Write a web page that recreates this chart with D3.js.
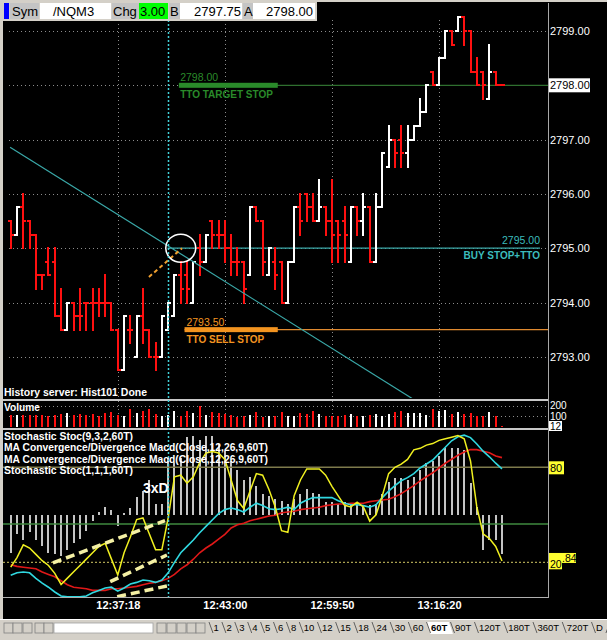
<!DOCTYPE html>
<html><head><meta charset="utf-8">
<script src="https://cdn.jsdelivr.net/npm/d3@7"></script>
<style>body{margin:0;background:#000;}svg{display:block;}</style>
</head><body><svg id="chart" width="607" height="640"></svg>
<script>
// ---------------- DATA ----------------
const opens = [2795.5,2795.25,2795.75,2795.5,2795.25,2794.5,2794.75,2794.75,2793.75,2793.5,
2794.0,2793.75,2794.0,2794.0,2794.0,2794.0,2794.0,2793.5,2792.75,2793.5,
2793.0,2793.75,2793.5,2793.0,2793.0,2793.5,2793.75,2794.5,2794.5,2794.0,
2795.0,2794.75,2795.5,2795.25,2795.25,2795.0,2794.75,2794.75,2794.5,2795.75,
2795.5,2794.5,2794.75,2794.75,2794.0,2794.75,2795.75,2796.0,2795.75,2795.5,
2795.75,2795.5,2795.5,2795.5,2794.75,2795.75,2795.5,2795.75,2794.75,2795.75,
2796.5,2797.0,2797.0,2796.75,2797.0,2797.25,2797.5,2798.25,2798.0,2798.5,
2799.0,2799.0,2799.25,2799.0,2798.25,2798.25,2797.75,2798.25,2798.0];
const highs = [2795.5,2795.75,2796.0,2795.5,2795.25,2794.5,2795.0,2795.0,2794.25,2794.0,
2794.0,2794.25,2794.0,2794.25,2794.25,2794.5,2794.0,2793.5,2793.75,2793.75,
2793.75,2794.25,2793.5,2793.25,2793.75,2794.0,2794.5,2794.75,2794.75,2794.75,
2795.25,2795.25,2795.5,2795.5,2795.5,2795.25,2795.0,2794.75,2795.75,2795.75,
2795.5,2795.0,2795.0,2794.75,2794.75,2795.75,2796.0,2796.0,2796.0,2796.25,
2795.75,2796.25,2795.5,2795.75,2795.75,2795.75,2796.0,2795.75,2796.0,2796.75,
2797.25,2797.0,2797.25,2797.25,2797.25,2797.75,2798.0,2798.25,2798.5,2799.0,
2799.0,2799.25,2799.25,2799.0,2798.5,2798.25,2798.75,2798.25,2798.0];
const lows = [2795.0,2795.25,2795.0,2795.0,2794.25,2794.25,2794.5,2793.75,2793.5,2793.5,
2793.5,2793.5,2793.5,2793.5,2793.75,2793.75,2793.5,2792.75,2792.75,2793.25,
2793.0,2793.25,2793.0,2792.75,2793.0,2793.5,2793.75,2794.0,2794.0,2794.0,
2794.5,2794.75,2795.0,2795.0,2794.75,2794.5,2794.5,2794.0,2794.5,2795.5,
2794.5,2794.5,2794.25,2794.0,2794.0,2794.75,2795.25,2795.5,2795.5,2795.5,
2795.25,2794.75,2794.75,2794.75,2794.75,2795.25,2795.25,2794.75,2794.75,2795.75,
2796.5,2796.5,2796.5,2796.5,2797.0,2797.25,2797.5,2798.0,2798.0,2798.5,
2798.75,2799.0,2798.75,2798.25,2798.0,2797.75,2797.75,2798.0,2798.0];
const closes = [2795.25,2795.75,2795.5,2795.25,2794.5,2794.5,2794.5,2793.75,2793.5,2794.0,
2793.75,2793.75,2794.0,2794.0,2794.0,2794.0,2793.5,2792.75,2793.75,2793.5,
2793.75,2793.5,2793.0,2793.0,2793.75,2794.0,2794.5,2794.25,2794.25,2794.75,
2794.75,2795.25,2795.25,2795.25,2795.0,2794.75,2794.75,2794.25,2795.75,2795.5,
2794.75,2795.0,2794.5,2794.0,2794.75,2795.75,2795.5,2795.75,2795.5,2795.75,
2795.5,2795.25,2795.25,2795.25,2795.75,2795.5,2795.75,2794.75,2795.75,2796.75,
2797.0,2796.75,2796.75,2797.0,2797.25,2797.5,2798.0,2798.0,2798.5,2799.0,
2798.75,2799.25,2799.0,2798.25,2798.0,2798.0,2798.25,2798.0,2798.0];
const volumes = [115,115,115,115,115,115,103,115,124,133,115,124,115,124,103,133,139,115,103,164,
133,148,167,124,103,115,148,103,148,130,191,115,139,130,124,115,94,100,115,139,
94,103,103,136,103,103,133,124,145,118,100,100,100,115,118,103,100,109,118,100,
124,139,148,133,133,133,109,170,148,155,118,139,124,133,100,100,139,100,12];
// Stochastic Stoc(9,3,2,60T) drawn as histogram about 50
const stochSlow = [26,38,34,39,34,30,26,25,24,28,32,35,40,46,52,55,53,43,51,54,61,65,72,57,57,
86,83,86,99,100,97,100,100,95,90,84,78,72,74,68,63,62,60,59,57,60,
63,66,64,63,58,58,57,58,57,56,55,56,57,63,71,73,73,72,74,78,83,84,87,92,92,92,91,70,55,28,34,34,25];
// Stochastic Stoc(1,1,1,60T)
const stochFast = [17,23,31,29,25,21,18,13,6,10,14,18,22,26,30,32,22,12,26,36,47,48,38,28,28,
48,74,75,70,74,83,89,90,89,85,72,59,54,65,76,75,66,55,40,39,62,
72,79,79,79,75,68,62,56,55,58,55,46,50,62,76,80,82,85,91,92,94,95,97,98,99,100,98,84,55,38,35,30,20.84];
// MACD(12,26,9) line and signal
const macdLine = [-0.64,-0.61,-0.60,-0.61,-0.68,-0.74,-0.79,-0.85,-0.90,-0.91,-0.91,-0.91,-0.90,-0.86,-0.83,-0.80,-0.79,-0.84,-0.80,-0.75,-0.73,-0.70,-0.71,-0.73,-0.70,
-0.61,-0.48,-0.36,-0.28,-0.20,-0.11,-0.03,0.05,0.13,0.18,0.20,0.18,0.15,0.21,0.26,0.23,0.19,0.18,0.19,0.21,0.18,
0.26,0.30,0.33,0.33,0.33,0.33,0.29,0.26,0.24,0.24,0.23,0.21,0.24,0.33,0.41,0.48,0.54,0.58,0.63,0.70,0.75,0.80,0.88,0.96,1.04,1.09,1.11,1.08,1.00,0.91,0.84,0.76,0.69];
const signalLine = [-0.51,-0.53,-0.54,-0.55,-0.56,-0.60,-0.63,-0.66,-0.71,-0.76,-0.79,-0.80,-0.81,-0.83,-0.83,-0.83,-0.81,-0.81,-0.80,-0.79,-0.78,-0.76,-0.74,-0.73,-0.71,
-0.68,-0.63,-0.56,-0.51,-0.44,-0.36,-0.30,-0.25,-0.19,-0.13,-0.05,-0.01,0.01,0.04,0.06,0.08,0.10,0.11,0.14,0.15,0.16,
0.18,0.19,0.20,0.21,0.23,0.24,0.25,0.25,0.26,0.26,0.26,0.28,0.29,0.30,0.31,0.34,0.38,0.43,0.48,0.54,0.59,0.64,0.70,0.76,0.81,0.86,0.90,0.93,0.93,0.91,0.89,0.85,0.83];

const priceTicks = [2793,2794,2795,2796,2797,2798,2799];
const lastPrice = 2798;
const timeTickIndex = [17,34,51,68];
const timeTickLabels = ["12:37:18","12:43:00","12:59:50","13:16:20"];
const volTicks = [100,200];
const lastVolume = 12;
const stochLevels = [20,80];
const lastStoch = 20.84;

const orderPrices = [2798.00, 2795.00, 2793.50];
const orderNames = ["TTO TARGET STOP","BUY STOP+TTO","TTO SELL STOP"];

const headerLabels = ["Sym","Chg","B","A"];
const headerValues = ["/NQM3","3.00","2797.75","2798.00"];

const indicatorNames = ["Stochastic Stoc(9,3,2,60T)","MA Convergence/Divergence Macd(Close,12,26,9,60T)",
  "MA Convergence/Divergence Macd(Close,12,26,9,60T)","Stochastic Stoc(1,1,1,60T)"];
const tabLabels = ["1","2","3","4","5","6","8","10","12","15","18","24","30","60","60T","90T","120T","180T","360T","720T","D"];
const selectedTab = "60T";

// drawn annotations: [barIndex, value]
const trendLine = [[-0.1,2796.86],[63.9,2792.22]];
const arrowLine = [[21.95,2794.47],[27.2,2795.0]];
const circleAt = [27,2795.0];
const cursorIndex = 25;
const divergenceLines = [ [[6.7,19.6],[24.5,46.3]], [[15.8,7.8],[24.8,24.6]], [[16.9,-1.7],[24.8,5.0]] ];
const divergenceText = "3xD";
const statusText = "History server: Hist101 Done";

// ---------------- DRAW ----------------
const FONT = "'Liberation Sans', Arial, sans-serif";
const W = 607, H = 640, L = 3, R = 548;
const svg = d3.select("#chart").attr("font-family", FONT);
svg.append("rect").attr("width", W).attr("height", H).attr("fill", "#000");

const defs = svg.append("defs");
defs.append("clipPath").attr("id","clipMain").append("rect").attr("x",L).attr("y",19).attr("width",R-L).attr("height",379);
defs.append("clipPath").attr("id","clipOsc").append("rect").attr("x",L).attr("y",430).attr("width",R-L).attr("height",167);

const x = d3.scaleLinear().domain([0, 78]).range([10.7, 502]);
const yP = d3.scaleLinear().domain([2793, 2799]).range([356.8, 31]);
const yV = d3.scaleLinear().domain([0, 200]).range([427, 405.5]);
const yS = d3.scaleLinear().domain([20, 80]).range([562.3, 467.3]);
const yM = d3.scaleLinear().domain([0, 1]).range([524, 444]);
const px = i => Math.round(x(i));

// frame pieces
svg.append("rect").attr("x",0).attr("y",0).attr("width",W).attr("height",2).attr("fill","#d4d0c8");
svg.append("rect").attr("x",0).attr("y",0).attr("width",L).attr("height",620).attr("fill","#d4d0c8");

// grid
const grid = svg.append("g").attr("stroke","#8c8c8c").attr("stroke-dasharray","1,3").attr("shape-rendering","crispEdges");
grid.selectAll(".gh").data(priceTicks).join("line")
  .attr("x1", L+6).attr("x2", R).attr("y1", d=>Math.round(yP(d))+0.5).attr("y2", d=>Math.round(yP(d))+0.5);
grid.selectAll(".gv").data(timeTickIndex).join("line")
  .attr("x1", d=>px(d)+0.5).attr("x2", d=>px(d)+0.5).attr("y1", 20).attr("y2", 398);
grid.selectAll(".gvv").data(timeTickIndex).join("line")
  .attr("x1", d=>px(d)+0.5).attr("x2", d=>px(d)+0.5).attr("y1", 401).attr("y2", 427);
grid.selectAll(".gvol").data(volTicks).join("line")
  .attr("x1", L+6).attr("x2", R).attr("y1", d=>Math.round(yV(d))+0.5).attr("y2", d=>Math.round(yV(d))+0.5);

// order lines
const orderStyle = [
  {col:"#2a8a2a", thin:"#2f6f2f", from:26.7, thickTo:42.4, to:R, align:"start", lx:26.9},
  {col:"#3cbcbc", thin:"#3aa8a8", from:24.9, thickTo:null, to:540, align:"end", lx:null},
  {col:"#f39420", thin:"#e08a30", from:27.6, thickTo:42.4, to:R, align:"start", lx:27.9}
];
const gO = svg.append("g");
orderPrices.forEach((p,k)=>{
  const s = orderStyle[k], yy = yP(p);
  gO.append("line").attr("x1", x(s.from)).attr("x2", s.to).attr("y1", yy).attr("y2", yy)
    .attr("stroke", s.thin).attr("stroke-width", 1.2);
  if (s.thickTo !== null) {
    gO.append("rect").attr("x", x(s.from)).attr("y", yy-2.5).attr("width", x(s.thickTo)-x(s.from)).attr("height", 5).attr("fill", s.col);
  }
  const tx = s.align === "start" ? x(s.lx) : 540;
  gO.append("text").attr("x", tx).attr("y", yy-4).attr("text-anchor", s.align).attr("fill", s.col)
    .attr("font-size", 10.5).text(d3.format(".2f")(p));
  gO.append("text").attr("x", tx).attr("y", yy+(k===1?11:13)).attr("text-anchor", s.align).attr("fill", s.col)
    .attr("font-size", 10).attr("font-weight","bold").text(orderNames[k]);
});

// OHLC bars
const bars = d3.range(opens.length).map(i=>({i, o:opens[i], h:highs[i], l:lows[i], c:closes[i], v:volumes[i]}));
const col = d => d.c > d.o ? "#ffffff" : "#ff1010";
const gB = svg.append("g").attr("shape-rendering","crispEdges").attr("stroke-width",2);
gB.selectAll(".hl").data(bars).join("line")
  .attr("x1", d=>px(d.i)).attr("x2", d=>px(d.i))
  .attr("y1", d=>Math.round(yP(d.h))-1).attr("y2", d=>Math.round(yP(d.l))+1).attr("stroke", col);
gB.selectAll(".op").data(bars).join("line")
  .attr("x1", d=>px(d.i)-3).attr("x2", d=>px(d.i))
  .attr("y1", d=>Math.round(yP(d.o))).attr("y2", d=>Math.round(yP(d.o))).attr("stroke", col);
gB.selectAll(".cl").data(bars).join("line")
  .attr("x1", d=>px(d.i)).attr("x2", d=>px(d.i)+3)
  .attr("y1", d=>Math.round(yP(d.c))).attr("y2", d=>Math.round(yP(d.c))).attr("stroke", col);

// trendline, arrow, circle
const gA = svg.append("g").attr("clip-path","url(#clipMain)");
gA.append("line").attr("x1", x(trendLine[0][0])).attr("y1", yP(trendLine[0][1]))
  .attr("x2", x(trendLine[1][0])).attr("y2", yP(trendLine[1][1])).attr("stroke","#3aa8a8").attr("stroke-width",1.2);
gA.append("line").attr("x1", x(arrowLine[0][0])).attr("y1", yP(arrowLine[0][1]))
  .attr("x2", x(arrowLine[1][0])).attr("y2", yP(arrowLine[1][1])).attr("stroke","#f0a030").attr("stroke-width",2).attr("stroke-dasharray","4,3");
gA.append("ellipse").attr("cx", x(circleAt[0])).attr("cy", yP(circleAt[1])).attr("rx",15).attr("ry",14)
  .attr("fill","none").attr("stroke","#fff").attr("stroke-width",1.5);

// price axis
const pAxis = svg.append("g").attr("transform",`translate(${R},0)`)
  .call(d3.axisRight(yP).tickValues(priceTicks).tickFormat(d3.format(".2f")).tickSize(0).tickPadding(2));
pAxis.attr("font-family", FONT).attr("font-size", 11);
pAxis.select(".domain").remove();
pAxis.selectAll("text").attr("fill","#fff");
svg.append("rect").attr("x", R+1).attr("y", yP(lastPrice)-7).attr("width", 41).attr("height", 14).attr("fill","#fff");
svg.append("text").attr("x", R+2).attr("y", yP(lastPrice)+4).attr("font-size",11).attr("fill","#000").text(d3.format(".2f")(lastPrice));

// panel separators
const sep = svg.append("g").attr("stroke","#c8c8c8").attr("shape-rendering","crispEdges");
sep.append("line").attr("x1",L).attr("x2",R).attr("y1",399.5).attr("y2",399.5).attr("stroke-width",2);
sep.append("line").attr("x1",L).attr("x2",R+12).attr("y1",428.5).attr("y2",428.5).attr("stroke-width",2);
sep.append("line").attr("x1",L).attr("x2",R).attr("y1",597.5).attr("y2",597.5).attr("stroke","#b0b0b0");
sep.append("line").attr("x1",R+0.5).attr("x2",R+0.5).attr("y1",3).attr("y2",598).attr("stroke","#a8a8a8");

// volume
const gV = svg.append("g").attr("shape-rendering","crispEdges");
gV.selectAll("line").data(bars).join("line")
  .attr("x1", d=>px(d.i)).attr("x2", d=>px(d.i)).attr("y1", yV(0)).attr("y2", d=>Math.round(yV(d.v)))
  .attr("stroke", col).attr("stroke-width", 2);
const vAxis = svg.append("g").attr("transform",`translate(${R},0)`)
  .call(d3.axisRight(yV).tickValues(volTicks).tickSize(0).tickPadding(2));
vAxis.attr("font-family", FONT).attr("font-size", 10);
vAxis.select(".domain").remove();
vAxis.selectAll("text").attr("fill","#fff");
svg.append("rect").attr("x", R+1).attr("y", 421).attr("width", 13).attr("height", 10).attr("fill","#fff");
svg.append("text").attr("x", R+2).attr("y", 430).attr("font-size",10).attr("fill","#000").text(lastVolume);

// oscillator panel
const gOsc = svg.append("g").attr("clip-path","url(#clipOsc)");
gOsc.append("g").attr("shape-rendering","crispEdges").selectAll("line").data(stochSlow).join("line")
  .attr("x1", (d,i)=>px(i)).attr("x2", (d,i)=>px(i)).attr("y1", yS(50)).attr("y2", d=>yS(d))
  .attr("stroke","#c4c4c4").attr("stroke-width",2);
gOsc.append("line").attr("x1",L).attr("x2",R).attr("y1",yS(80)).attr("y2",yS(80)).attr("stroke","#7e7a4c").attr("stroke-width",1.5);
gOsc.append("line").attr("x1",L).attr("x2",R).attr("y1",yS(20)).attr("y2",yS(20)).attr("stroke","#a8a050").attr("stroke-width",1.2).attr("stroke-dasharray","2,2");
gOsc.append("line").attr("x1",L).attr("x2",R).attr("y1",yM(0)).attr("y2",yM(0)).attr("stroke","#3f8a3f").attr("stroke-width",1.5);
const lineM = d3.line().x((d,i)=>x(i)).y(d=>yM(d));
const lineS = d3.line().x((d,i)=>x(i)).y(d=>yS(d));
gOsc.append("path").attr("d", lineM(signalLine)).attr("fill","none").attr("stroke","#e01818").attr("stroke-width",1.6);
gOsc.append("path").attr("d", lineM(macdLine)).attr("fill","none").attr("stroke","#30d8e0").attr("stroke-width",1.6);
gOsc.append("path").attr("d", lineS(stochFast)).attr("fill","none").attr("stroke","#f0f020").attr("stroke-width",1.5);
divergenceLines.forEach(seg=>{
  gOsc.append("line").attr("x1", x(seg[0][0])).attr("y1", yS(seg[0][1])).attr("x2", x(seg[1][0])).attr("y2", yS(seg[1][1]))
    .attr("stroke","#f4f0a4").attr("stroke-width",3.5).attr("stroke-dasharray","9,5");
});
svg.append("text").attr("x", 143).attr("y", 493).attr("fill","#fff").attr("font-size",14).attr("font-weight","bold").text(divergenceText);

// osc labels (right)
svg.append("rect").attr("x",R+1).attr("y",yS(80)-6).attr("width",15).attr("height",13).attr("fill","#ffff30");
svg.append("text").attr("x",R+2).attr("y",yS(80)+5).attr("font-size",11).attr("fill","#000").text(stochLevels[1]);
// current value label "20.84" with the "20" level label overlapping its left part (as in the platform)
svg.append("rect").attr("x",R+1).attr("y",yS(lastStoch)-8).attr("width",27).attr("height",10).attr("fill","#ffff30");
svg.append("text").attr("x",R+14).attr("y",yS(lastStoch)+1).attr("font-size",10.5).attr("fill","#000").text(d3.format(".2f")(lastStoch).slice(2));
svg.append("rect").attr("x",R+1).attr("y",yS(20)-4).attr("width",13).attr("height",11).attr("fill","#ffff30");
svg.append("text").attr("x",R+2).attr("y",yS(20)+6).attr("font-size",10.5).attr("fill","#000").text(stochLevels[0]);

// cursor
svg.append("line").attr("x1", px(cursorIndex)+0.5).attr("x2", px(cursorIndex)+0.5).attr("y1",20).attr("y2",597)
  .attr("stroke","#40d0d8").attr("stroke-width",1.5).attr("stroke-dasharray","2,2");

// panel texts
const lbl = (tx, ty, s, len, size) => svg.append("text").attr("x",tx).attr("y",ty).attr("fill","#fff")
  .attr("font-size", size||10).attr("font-weight","bold").attr("textLength", len).attr("lengthAdjust","spacingAndGlyphs").text(s);
lbl(4, 396, statusText, 143);
lbl(4, 411, "Volume", 36);
const indLen = [129, 264, 264, 129];
indicatorNames.forEach((s,k)=> lbl(4, 440 + k*11.3, s, indLen[k]));

// time axis
const tAxis = svg.append("g").attr("transform","translate(0,597)")
  .call(d3.axisBottom(x).tickValues(timeTickIndex).tickFormat((d,i)=>timeTickLabels[i]).tickSize(0).tickPadding(4));
tAxis.attr("font-family", FONT).attr("font-size", 11).attr("font-weight","bold");
tAxis.select(".domain").remove();
tAxis.selectAll("text").attr("fill","#fff");

// header
svg.append("rect").attr("x",0).attr("y",0).attr("width",317).attr("height",21).attr("fill","#d4d0c8");
const hBoxes = [
  {x:4,w:5,fill:"#0000ff"},
  {x:10,w:29,fill:"#c4c4c4",t:headerLabels[0],tx:12,a:"start"},
  {x:40,w:71,fill:"#ffffff",t:headerValues[0],tx:53,a:"start"},
  {x:112,w:27,fill:"#c4c4c4",t:headerLabels[1],tx:113,a:"start"},
  {x:139,w:29,fill:"#00ff00",t:headerValues[1],tx:140,a:"start"},
  {x:169,w:11,fill:"#c4c4c4",t:headerLabels[2],tx:170,a:"start"},
  {x:180,w:62,fill:"#ffffff",t:headerValues[2],tx:241,a:"end"},
  {x:243,w:10,fill:"#c4c4c4",t:headerLabels[3],tx:244,a:"start"},
  {x:253,w:62,fill:"#ffffff",t:headerValues[3],tx:313,a:"end"}
];
hBoxes.forEach(b=>{
  svg.append("rect").attr("x",b.x).attr("y",3).attr("width",b.w).attr("height",16).attr("fill",b.fill);
  if (b.t) svg.append("text").attr("x",b.tx).attr("y",16).attr("text-anchor",b.a).attr("font-size",13).attr("fill","#000").text(b.t);
});

// bottom tab bar
const tb = svg.append("g");
tb.append("rect").attr("x",0).attr("y",619).attr("width",W).attr("height",21).attr("fill","#d4d0c8");
tb.append("line").attr("x1",0).attr("x2",W).attr("y1",619.5).attr("y2",619.5).attr("stroke","#fff");
[4,13,23,35,44,157,167,177,187,196].forEach(bx=>{
  tb.append("rect").attr("x",bx).attr("y",623).attr("width",9).attr("height",10).attr("fill","#d4d0c8").attr("stroke","#808080").attr("stroke-width",0.8);
});
tb.append("rect").attr("x",54).attr("y",623).attr("width",99).attr("height",10).attr("fill","#fff").attr("stroke","#a0a0a0").attr("stroke-width",0.8);
let cx = 209;
tabLabels.forEach(t=>{
  const sel = t === selectedTab;
  const te = tb.append("text").attr("x", cx+4.5).attr("y", 631).attr("font-size",9.5).attr("fill","#000")
    .attr("font-weight", sel ? "bold" : "normal").text(t);
  const w = te.node().getComputedTextLength();
  if (sel) {
    tb.insert("polygon", "text").attr("points", `${cx},622 ${cx+w+6},622 ${cx+w+10},634 ${cx+4},634`).attr("fill","#fff");
  }
  tb.append("line").attr("x1",cx).attr("y1",622).attr("x2",cx+4).attr("y2",633).attr("stroke","#606060");
  cx += w + 7.6;
});
tb.append("line").attr("x1",cx+4).attr("y1",622).attr("x2",cx).attr("y2",633).attr("stroke","#606060");
</script></body></html>
